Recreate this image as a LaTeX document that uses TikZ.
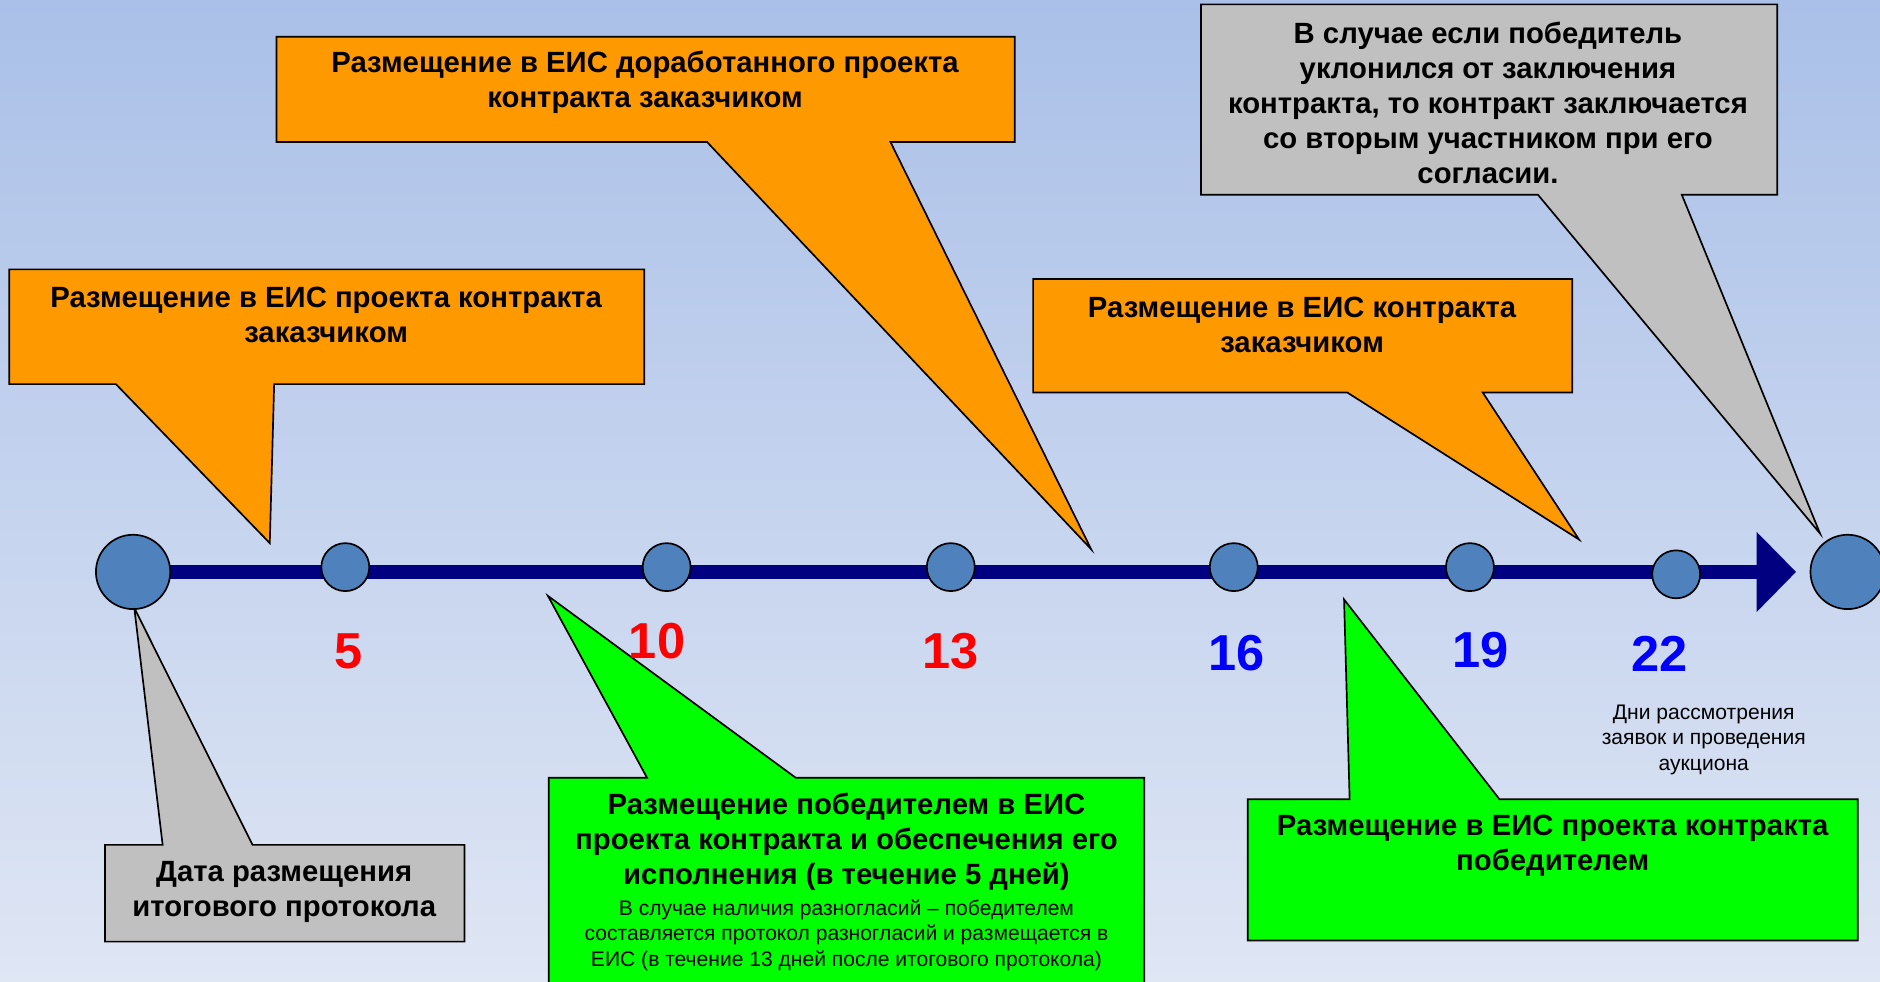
\documentclass[tikz,border=0pt]{standalone}
\usepackage{fontspec}
\setmainfont{Liberation Sans}
\usepackage{tikz}
\usetikzlibrary{calc}
\usetikzlibrary{fit}
\usetikzlibrary{arrows.meta}
\definecolor{bgtop}{HTML}{AAC0E8}
\definecolor{bgbottom}{HTML}{DFE6F4}
\definecolor{calloutorange}{HTML}{FF9900}
\definecolor{calloutgray}{HTML}{C0C0C0}
\definecolor{calloutgreen}{HTML}{00FF00}
\definecolor{dotblue}{HTML}{4F81BD}
\definecolor{axisnavy}{HTML}{000080}

\begin{document}
\begin{tikzpicture}[x=0.02cm,y=-0.02cm,
  callbox/.style={fit={#1},inner sep=0pt},
  callout/.style={fill=#1,draw=black,line width=0.8pt,line join=miter},
  bigtext/.style={align=center,inner sep=0pt,font=\fontsize{13.9}{16.6}\selectfont\bfseries},
  smalltext/.style={align=center,inner sep=0pt,font=\fontsize{10}{12}\selectfont},
  daynum/.style={text=#1,inner sep=0pt,font=\fontsize{24}{28}\selectfont\bfseries},
  dot/.style={circle,draw=black,line width=0.8pt,fill=dotblue,minimum size=0.8cm,inner sep=0pt},
  bigdot/.style={dot,minimum size=1.24cm}]
\useasboundingbox (0,0) rectangle (1568,819);
\shade[top color=bgtop,bottom color=bgbottom] (0,0) rectangle (1568,819);

%callouts
\node[callbox={(8,225) (537,320)}] (b1) {};
\coordinate (tip1) at (225,453);
\draw[callout=calloutorange] (b1.north west) -- (b1.north east) -- (b1.south east) -- ($(b1.south west)+(221,0)$) -- (tip1) -- ($(b1.south west)+(89,0)$) -- (b1.south west) -- cycle;
\node[bigtext] (t1) at (272,263) {Размещение в ЕИС проекта контракта\\заказчиком};

\node[callbox={(231,31) (846,118)}] (b2) {};
\coordinate (tip2) at (910,458);
\draw[callout=calloutorange] (b2.north west) -- (b2.north east) -- (b2.south east) -- ($(b2.south west)+(512,0)$) -- (tip2) -- ($(b2.south west)+(359,0)$) -- (b2.south west) -- cycle;
\node[bigtext] (t2) at (538,69) {Размещение в ЕИС доработанного проекта\\контракта заказчиком};

\node[callbox={(1002,4) (1482,162)}] (b3) {};
\coordinate (tip3) at (1518,445);
\draw[callout=calloutgray] (b3.north west) -- (b3.north east) -- (b3.south east) -- ($(b3.south west)+(401,0)$) -- (tip3) -- ($(b3.south west)+(281,0)$) -- (b3.south west) -- cycle;
\node[bigtext] (t3) at (1241,86) {В случае если победитель\\уклонился от заключения\\контракта, то контракт заключается\\со вторым участником при его\\согласии.};

\node[callbox={(862,233) (1311,327)}] (b4) {};
\coordinate (tip4) at (1317,450);
\draw[callout=calloutorange] (b4.north west) -- (b4.north east) -- (b4.south east) -- ($(b4.south west)+(375,0)$) -- (tip4) -- ($(b4.south west)+(262,0)$) -- (b4.south west) -- cycle;
\node[bigtext] (t4) at (1086,271) {Размещение в ЕИС контракта\\заказчиком};

\node[callbox={(88,705) (387,785)}] (b5) {};
\coordinate (tip5) at (112,507);
\draw[callout=calloutgray] (b5.north west) -- ($(b5.north west)+(48,0)$) -- (tip5) -- ($(b5.north west)+(123,0)$) -- (b5.north east) -- (b5.south east) -- (b5.south west) -- cycle;
\node[bigtext] (t5) at (237,744) {Дата размещения\\итогового протокола};

\node[callbox={(458,649) (954,830)}] (b6) {};
\coordinate (tip6) at (457,497);
\draw[callout=calloutgreen] (b6.north west) -- ($(b6.north west)+(82,0)$) -- (tip6) -- ($(b6.north west)+(206,0)$) -- (b6.north east) -- (b6.south east) -- (b6.south west) -- cycle;
\node[bigtext] (t6) at (706,702) {Размещение победителем в ЕИС\\проекта контракта и обеспечения его\\исполнения (в течение 5 дней)};
\node[smalltext] (t6b) at (706,780) {В случае наличия разногласий – победителем\\составляется протокол разногласий и размещается в\\ЕИС (в течение 13 дней после итогового протокола)};

\node[callbox={(1041,667) (1549,784)}] (b7) {};
\coordinate (tip7) at (1121,500);
\draw[callout=calloutgreen] (b7.north west) -- ($(b7.north west)+(85,0)$) -- (tip7) -- ($(b7.north west)+(210,0)$) -- (b7.north east) -- (b7.south east) -- (b7.south west) -- cycle;
\node[bigtext] (t7) at (1295,705) {Размещение в ЕИС проекта контракта\\победителем};

%time axis
\coordinate (start) at (111,477);
\coordinate (end) at (1498,477);
\draw[axisnavy,line width=0.24cm,-{Triangle[length=0.66cm,width=1.3cm]}] (start) -- (end);
\node[bigdot] (c0) at (111,477) {};
\node[dot] (c1) at (288,473) {};
\node[dot] (c2) at (556,473) {};
\node[dot] (c3) at (793,473) {};
\node[dot] (c4) at (1029,473) {};
\node[dot] (c5) at (1226,473) {};
\node[dot] (c6) at (1398,479) {};
\node[bigdot] (c7) at (1541,477) {};

\node[daynum=red] (d5) at (291,543) {5};
\node[daynum=red] (d10) at (548,535) {10};
\node[daynum=red] (d13) at (793,543) {13};
\node[daynum=blue] (d16) at (1031,545) {16};
\node[daynum=blue] (d19) at (1235,542) {19};
\node[daynum=blue] (d22) at (1384,545) {22};
\node[smalltext] (note) at (1421,617) {Дни рассмотрения\\заявок и проведения\\аукциона};
\end{tikzpicture}
\end{document}
